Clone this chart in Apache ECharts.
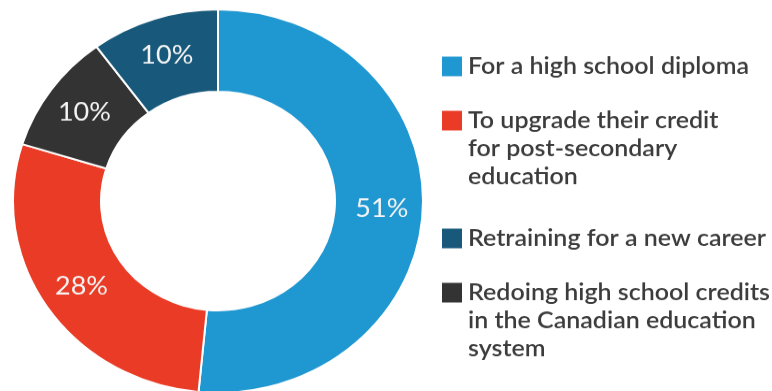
<!DOCTYPE html>
<html>
<head>
<meta charset="utf-8">
<script src="https://cdn.jsdelivr.net/npm/echarts@6/dist/echarts.min.js"></script>
<style>
  html, body { margin: 0; padding: 0; background: #ffffff; overflow: hidden; }
  #wrap { width: 772px; height: 391px; overflow: hidden; }
  /* the artwork is slightly flattened vertically */
  #chart { width: 772px; height: 418px; transform: scaleY(0.935); transform-origin: 0 0; }
</style>
</head>
<body>
<div id="wrap"><div id="chart"></div></div>
<script>
// Reasons for taking the course (percent of respondents), clockwise from 12 o'clock
const categories = [
  'For a high school diploma',
  'To upgrade their credit\nfor post-secondary\neducation',
  'Redoing high school credits\nin the Canadian education\nsystem',
  'Retraining for a new career'
];
const shares = [51, 28, 10, 10];
const colors = ['#1f97d1', '#e93b25', '#333333', '#17587b'];

// Legend order and vertical anchor (icon centre) for each entry
const legendOrder = [0, 1, 3, 2];
const legendIconCenters = [71, 129, 255, 313];

const LINE_H = 30;
const ICON_W = 22, ICON_H = 23;

const pieData = categories.map((name, i) => ({
  name: name,
  value: shares[i],
  itemStyle: { color: colors[i] }
}));

// One legend block per entry; blank lines above the text keep the
// icon level with the first text line
const legends = legendOrder.map((idx, k) => {
  const lines = categories[idx].split('\n').length;
  const boxH = (2 * lines - 1) * LINE_H;
  return {
    orient: 'vertical',
    left: 440,
    top: legendIconCenters[k] - boxH / 2,
    padding: 0,
    itemWidth: ICON_W,
    itemHeight: ICON_H,
    icon: 'rect',
    selectedMode: false,
    data: [categories[idx]],
    formatter: (name) => '\n'.repeat(lines - 1) + name,
    textStyle: {
      fontFamily: 'Lato',
      fontSize: 25,
      fontWeight: 600,
      color: '#3c3c3c',
      lineHeight: LINE_H
    }
  };
});

const chart = echarts.init(document.getElementById('chart'), null, { renderer: 'canvas' });
chart.setOption({
  backgroundColor: '#ffffff',
  animation: false,
  legend: legends,
  series: [{
    type: 'pie',
    center: [218, 215],
    radius: [117, 205],
    startAngle: 90,
    clockwise: true,
    avoidLabelOverlap: false,
    itemStyle: { borderColor: '#ffffff', borderWidth: 2 },
    label: {
      show: true,
      position: 'inside',
      formatter: '{c}%',
      color: '#f4f4f4',
      fontFamily: 'Lato',
      fontSize: 27
    },
    labelLine: { show: false },
    emphasis: { disabled: true },
    data: pieData
  }]
});
</script>
</body>
</html>
